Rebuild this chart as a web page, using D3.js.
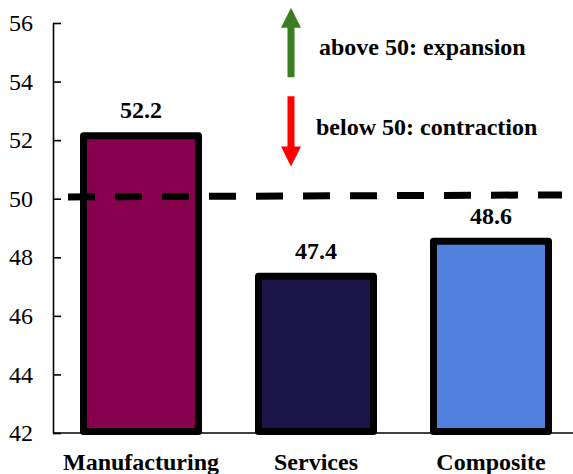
<!DOCTYPE html>
<html>
<head>
<meta charset="utf-8">
<script src="https://cdn.jsdelivr.net/npm/d3@7"></script>
<style>
  body { margin: 0; background: #fff; }
</style>
</head>
<body>
<div id="chart"></div>
<script>
var categories = ["Manufacturing", "Services", "Composite"];
var values = [52.2, 47.4, 48.6];
var barColors = ["#86004e", "#1c1548", "#5181df"];
var yTicks = [42, 44, 46, 48, 50, 52, 54, 56];
var threshold = 50;
var notes = ["above 50: expansion", "below 50: contraction"];
// arrow extents in index units (tail, tip)
var upArrow = [54.15, 56.52];
var downArrow = [53.5, 51.1];

var width = 573, height = 474;
var serif = "Liberation Serif";

var svg = d3.select("#chart")
            .append("svg")
            .attr("width", width)
            .attr("height", height);

var y = d3.scaleLinear().domain([42, 56]).range([433, 23]);
var x = d3.scaleBand()
          .domain(categories)
          .range([53.5, 578.5])
          .paddingInner(0.343)
          .paddingOuter(0.1715);

// y axis
var yAxis = d3.axisLeft(y)
              .tickValues(yTicks)
              .tickSizeInner(-8)
              .tickSizeOuter(0)
              .tickPadding(20)
              .tickFormat(d3.format("d"));

var gy = svg.append("g")
            .attr("transform", "translate(53,0)")
            .call(yAxis)
            .attr("font-family", serif)
            .attr("font-size", 24);
gy.select(".domain").attr("stroke", "#000").attr("stroke-width", 1.6);
gy.selectAll(".tick line").attr("stroke", "#000").attr("stroke-width", 1.6);
gy.selectAll(".tick text").attr("fill", "#000");

// bottom line
svg.append("line")
   .attr("x1", 53).attr("x2", width)
   .attr("y1", y(42)).attr("y2", y(42))
   .attr("stroke", "#000")
   .attr("stroke-width", 1.6);

// bars
svg.selectAll("rect.bar")
   .data(values)
   .enter()
   .append("rect")
   .attr("class", "bar")
   .attr("x", function(d, i) { return x(categories[i]); })
   .attr("y", function(d) { return y(d) + 1.5; })
   .attr("width", x.bandwidth())
   .attr("height", function(d) { return y(42) - y(d) - 3; })
   .attr("fill", function(d, i) { return barColors[i]; })
   .attr("stroke", "#000")
   .attr("stroke-width", 7)
   .attr("stroke-linejoin", "round");

// value labels
svg.selectAll("text.val")
   .data(values)
   .enter()
   .append("text")
   .attr("class", "val")
   .attr("x", function(d, i) { return x(categories[i]) + x.bandwidth() / 2; })
   .attr("y", function(d) { return y(d) - 16; })
   .attr("text-anchor", "middle")
   .attr("font-family", serif)
   .attr("font-size", 24)
   .attr("font-weight", "bold")
   .text(function(d) { return d.toFixed(1); });

// category labels
svg.selectAll("text.cat")
   .data(categories)
   .enter()
   .append("text")
   .attr("class", "cat")
   .attr("x", function(d) { return x(d) + x.bandwidth() / 2; })
   .attr("y", 470)
   .attr("text-anchor", "middle")
   .attr("font-family", serif)
   .attr("font-size", 24)
   .attr("font-weight", "bold")
   .text(function(d) { return d; });

// 50 line
svg.append("line")
   .attr("x1", 68).attr("x2", 562)
   .attr("y1", y(threshold) - 1.8).attr("y2", y(threshold) - 3.8)
   .attr("stroke", "#000")
   .attr("stroke-width", 7)
   .attr("stroke-dasharray", "27,20");

// arrows
var ax = x("Services") + x.bandwidth() / 2 - 25;
function arrowPath(from, to) {
  var y0 = y(from), y1 = y(to);
  var dir = y1 < y0 ? 1 : -1;
  var hb = y1 + dir * 20;
  return "M" + (ax - 3.5) + "," + y0 +
         "L" + (ax - 3.5) + "," + hb +
         "L" + (ax - 10) + "," + hb +
         "L" + ax + "," + y1 +
         "L" + (ax + 10) + "," + hb +
         "L" + (ax + 3.5) + "," + hb +
         "L" + (ax + 3.5) + "," + y0 + "Z";
}
svg.append("path").attr("d", arrowPath(upArrow[0], upArrow[1])).attr("fill", "#3b7d23");
svg.append("path").attr("d", arrowPath(downArrow[0], downArrow[1])).attr("fill", "#ff0000");

svg.append("text")
   .attr("x", ax + 28).attr("y", 55)
   .attr("font-family", serif)
   .attr("font-size", 24).attr("font-weight", "bold")
   .text(notes[0]);
svg.append("text")
   .attr("x", ax + 25).attr("y", 135)
   .attr("font-family", serif)
   .attr("font-size", 24).attr("font-weight", "bold")
   .text(notes[1]);
</script>
</body>
</html>
